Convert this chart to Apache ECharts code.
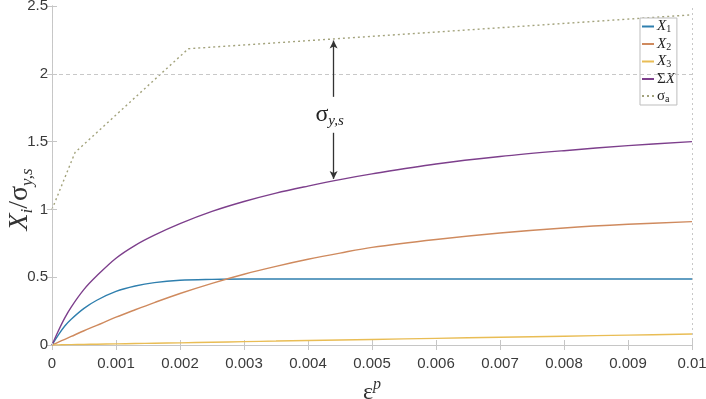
<!DOCTYPE html>
<html><head><meta charset="utf-8">
<script src="https://cdn.jsdelivr.net/npm/echarts@6/dist/echarts.min.js"></script>
<style>html,body{margin:0;padding:0;background:#fff}#c{width:706px;height:399px}</style>
</head><body><div id="c"></div>
<script>
// ---- data ----
const xVals   = [0, 0.0001, 0.0002, 0.0003, 0.0005, 0.0007, 0.001, 0.0013, 0.0016, 0.002, 0.0025, 0.003, 0.0035, 0.004, 0.0045, 0.005, 0.006, 0.007, 0.008, 0.009, 0.01];
const x1Vals  = [0, 0.075, 0.14, 0.19, 0.27, 0.33, 0.395, 0.435, 0.46, 0.477, 0.484, 0.487, 0.487, 0.487, 0.487, 0.487, 0.487, 0.487, 0.487, 0.487, 0.487];
const x2Vals  = [0, 0.021, 0.042, 0.063, 0.105, 0.145, 0.205, 0.26, 0.313, 0.38, 0.455, 0.522, 0.58, 0.632, 0.678, 0.72, 0.778, 0.826, 0.863, 0.89, 0.91];
const x3Vals  = [0, 0.001, 0.002, 0.003, 0.004, 0.006, 0.008, 0.011, 0.013, 0.016, 0.020, 0.025, 0.029, 0.033, 0.037, 0.041, 0.049, 0.057, 0.065, 0.073, 0.081];
const sumVals = [0, 0.105, 0.20, 0.28, 0.41, 0.51, 0.64, 0.735, 0.81, 0.895, 0.985, 1.058, 1.12, 1.172, 1.22, 1.262, 1.335, 1.39, 1.433, 1.47, 1.50];
const sigmaX  = [0, 0.00036, 0.00213, 0.01];
const sigmaY  = [1.0, 1.42, 2.185, 2.435];
const seriesNames = ['X1', 'X2', 'X3', 'ΣX', 'σa'];
const xTickLabels = ['0','0.001','0.002','0.003','0.004','0.005','0.006','0.007','0.008','0.009','0.01'];
const yTickLabels = ['0','0.5','1','1.5','2','2.5'];
const xGridVals = [0.003, 0.005, 0.007, 0.009];
const yGridVals = [2];
// annotation arrow (data coordinates)
const arrowX = 0.0044;
const arrowTop = 2.245, arrowGapTop = 1.83, arrowGapBottom = 1.565, arrowBottom = 1.225, arrowLabelY = 1.70;

const SERIF = "'Liberation Serif','DejaVu Serif',serif";
const SANS = "'Liberation Sans','Arimo',sans-serif";
const gridGray = '#c8c8c8';
const frameGray = '#c6c6c6';
const colors = ['#2f7fae', '#cf8a5e', '#e9bd55', '#7d3f8c', '#a3a37c'];

function pairs(xs, ys){ return xs.map((x,i)=>[x, ys[i]]); }

const legendRich = {
  x: {fontFamily: SERIF, fontStyle: 'italic', fontSize: 15, color: '#222', lineHeight: 16, verticalAlign: 'middle'},
  n: {fontFamily: SERIF, fontSize: 15, color: '#222', lineHeight: 16, verticalAlign: 'middle'},
  sb: {fontFamily: SERIF, fontSize: 10, color: '#222', lineHeight: 16, verticalAlign: 'bottom'}
};
const legendFmt = {'X1':'{x|X}{sb|1}','X2':'{x|X}{sb|2}','X3':'{x|X}{sb|3}','ΣX':'{n|Σ}{x|X}','σa':'{n|σ}{sb|a}'};

const baseX = {
  type: 'value', min: 0, max: 0.01, interval: 0.001,
  axisLine: {show: true, lineStyle: {color: frameGray, width: 1}},
  axisTick: {show: true, inside: true, length: 5, lineStyle: {color: frameGray}},
  splitLine: {show: false}
};
const baseY = {
  type: 'value', min: 0, max: 2.5, interval: 0.5,
  axisLine: {show: true, lineStyle: {color: frameGray, width: 1}},
  axisTick: {show: true, inside: true, length: 5, lineStyle: {color: frameGray}},
  splitLine: {show: false}
};

const lineSeries = (name, xs, ys, c, extra) => Object.assign({
  name, type: 'line', data: pairs(xs, ys), smooth: 0.35, symbol: 'none',
  lineStyle: {width: 1.4, color: c}, itemStyle: {color: c}
}, extra || {});

const option = {
  backgroundColor: '#fff',
  animation: false,
  grid: {left: 52, right: 14, top: 6, bottom: 54, containLabel: false, outerBoundsMode: 'none'},
  legend: {
    orient: 'vertical', left: 640, top: 18,
    data: seriesNames,
    itemWidth: 12, itemHeight: 10, itemGap: 2,
    padding: [1, 2, 1, 1],
    backgroundColor: '#fff', borderColor: '#bdbdbd', borderWidth: 1, borderRadius: 0,
    itemStyle: {opacity: 0, borderWidth: 0},
    formatter: n => legendFmt[n],
    textStyle: {rich: legendRich, padding: [0,0,0,-2]}
  },
  xAxis: [
    Object.assign({}, baseX, {
      position: 'bottom',
      name: '{e|ε}{sup|p}', nameLocation: 'middle', nameGap: 32,
      nameTextStyle: {rich: {
        e: {fontFamily: SERIF, fontSize: 24, color: '#333', lineHeight: 28, verticalAlign: 'bottom'},
        sup: {fontFamily: SERIF, fontStyle: 'italic', fontSize: 16, color: '#333', lineHeight: 28, verticalAlign: 'top'}
      }},
      axisLabel: {show: true, margin: 11, fontFamily: SANS, fontSize: 15, color: '#3a3a3a',
        formatter: (v) => xTickLabels[Math.round(v/0.001)]}
    }),
    Object.assign({}, baseX, {position: 'top', axisLabel: {show: false}})
  ],
  yAxis: [
    Object.assign({}, baseY, {
      position: 'left',
      name: '{x|X}{sub|i}{sl|/}{s|σ}{sub|y,s}', nameLocation: 'middle', nameGap: 16,
      nameMoveOverlap: false,
      nameTextStyle: {padding: [0, 48, 0, 0], rich: {
        x: {fontFamily: SERIF, fontStyle: 'italic', fontSize: 28, color: '#333', lineHeight: 32, verticalAlign: 'middle'},
        sl: {fontFamily: SERIF, fontSize: 28, color: '#333', lineHeight: 32, verticalAlign: 'middle'},
        s: {fontFamily: SERIF, fontSize: 28, color: '#333', lineHeight: 32, verticalAlign: 'middle'},
        sub: {fontFamily: SERIF, fontStyle: 'italic', fontSize: 17, color: '#333', lineHeight: 32, verticalAlign: 'bottom'}
      }},
      axisLabel: {show: true, margin: 4, fontFamily: SANS, fontSize: 15, color: '#3a3a3a',
        formatter: (v) => yTickLabels[Math.round(v/0.5)]}
    }),
    Object.assign({}, baseY, {position: 'right', axisLabel: {show: false}})
  ],
  series: [
    {name: 'grid', type: 'line', data: [], symbol: 'none', silent: true,
      markLine: {
        silent: true, animation: false, symbol: ['none', 'none'],
        label: {show: false},
        lineStyle: {color: gridGray, width: 1},
        data: xGridVals.map(v => ({xAxis: v, lineStyle: {type: [2, 3]}}))
          .concat(yGridVals.map(v => ({yAxis: v, lineStyle: {type: [4, 3]}})))
      }
    },
    lineSeries('X1', xVals, x1Vals, colors[0]),
    lineSeries('X2', xVals, x2Vals, colors[1]),
    lineSeries('X3', xVals, x3Vals, colors[2]),
    lineSeries('ΣX', xVals, sumVals, colors[3]),
    lineSeries('σa', sigmaX, sigmaY, colors[4], {smooth: false, lineStyle: {width: 1.4, color: colors[4], type: [2, 3]}}),
    {name: 'annot', type: 'line', data: [], symbol: 'none', silent: true,
      markLine: {
        silent: true, animation: false,
        symbolSize: [6, 8],
        lineStyle: {color: '#333', width: 1.3, type: 'solid'},
        label: {show: false},
        data: [
          [{coord: [arrowX, arrowGapTop], symbol: 'none'}, {coord: [arrowX, arrowTop], symbol: 'arrow'}],
          [{coord: [arrowX, arrowGapBottom], symbol: 'none'}, {coord: [arrowX, arrowBottom], symbol: 'arrow'}]
        ]
      },
      markPoint: {
        silent: true, animation: false,
        data: [{coord: [arrowX, arrowLabelY], symbol: 'circle', symbolSize: 1, itemStyle: {color: 'rgba(0,0,0,0)'},
          label: {show: true, position: 'inside', offset: [-4, 0], formatter: '{s|σ}{sub|y,s}', rich: {
            s: {fontFamily: SERIF, fontSize: 24, color: '#222', lineHeight: 28, verticalAlign: 'middle'},
            sub: {fontFamily: SERIF, fontStyle: 'italic', fontSize: 15, color: '#222', lineHeight: 28, verticalAlign: 'bottom'}
          }}}]
      }
    }
  ]
};

const chart = echarts.init(document.getElementById('c'), null, {renderer: 'canvas'});
chart.setOption(option);
</script>
</body></html>
